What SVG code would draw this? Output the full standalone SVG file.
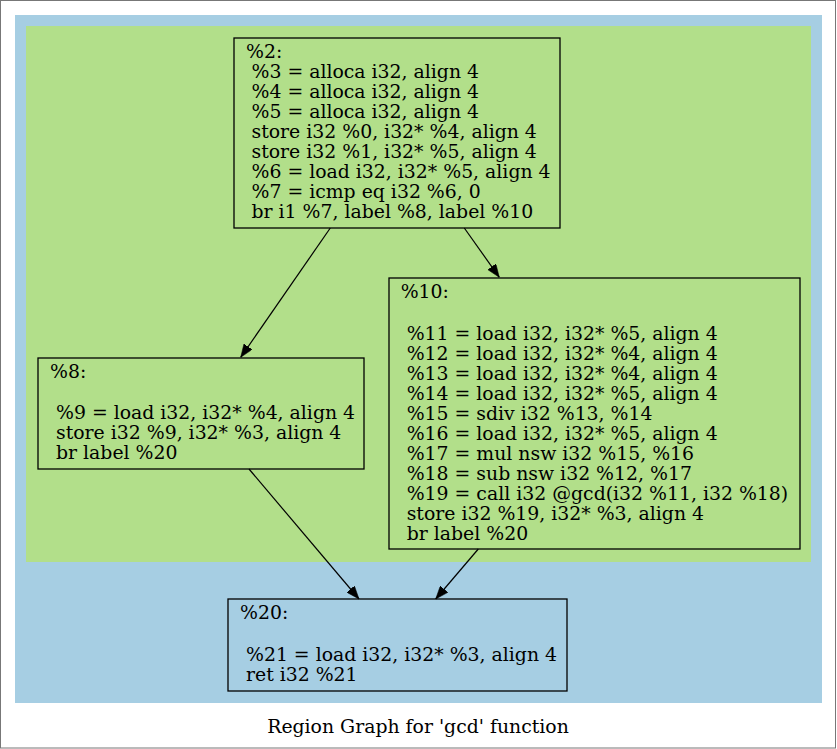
<svg xmlns="http://www.w3.org/2000/svg" width="837" height="749" viewBox="0 0 837 749">
  <style>
    .frame { fill: #ffffff; stroke: #777777; stroke-width: 1; }
    .outer { fill: #a6cee3; }
    .inner { fill: #b2df8a; }
    .node rect { stroke: #000000; stroke-width: 1.3; }
    .g rect { fill: #b2df8a; }
    .b rect { fill: #a6cee3; }
    text { font-family: "DejaVu Serif", serif; font-size: 18.85px; fill: #000000; }
    .edge { stroke: #000000; stroke-width: 1.2; fill: none; marker-end: url(#arrow); }
  </style>
  <defs>
    <marker id="arrow" viewBox="0 0 13 10" refX="13" refY="5" markerWidth="13" markerHeight="10" markerUnits="userSpaceOnUse" orient="auto">
      <path d="M0,0 L13,5 L0,10 Z" fill="#000000" stroke="#000000" stroke-width="0.5"/>
    </marker>
  </defs>

  <rect class="frame" x="0.5" y="0.5" width="835" height="747.5"/>

  <!-- clusters -->
  <rect class="outer" x="15" y="15" width="807" height="688"/>
  <rect class="inner" x="26" y="26" width="785" height="536"/>

  <g id="node2" class="node g">
    <rect x="234" y="38" width="326" height="190"/>
    <text x="246" y="58.3">%2:</text>
    <text x="251.5" y="78.2">%3 = alloca i32, align 4</text>
    <text x="251.5" y="98.1">%4 = alloca i32, align 4</text>
    <text x="251.5" y="118">%5 = alloca i32, align 4</text>
    <text x="251.5" y="137.9">store i32 %0, i32* %4, align 4</text>
    <text x="251.5" y="157.8">store i32 %1, i32* %5, align 4</text>
    <text x="251.5" y="177.7">%6 = load i32, i32* %5, align 4</text>
    <text x="251.5" y="197.6">%7 = icmp eq i32 %6, 0</text>
    <text x="251.5" y="217.5">br i1 %7, label %8, label %10</text>
  </g>

  <g id="node8" class="node g">
    <rect x="38" y="358" width="326" height="111"/>
    <text x="50" y="377.7">%8:</text>
    <text x="56" y="419.3">%9 = load i32, i32* %4, align 4</text>
    <text x="56" y="439.3">store i32 %9, i32* %3, align 4</text>
    <text x="56" y="459.3">br label %20</text>
  </g>

  <g id="node10" class="node g">
    <rect x="389" y="278" width="411" height="271"/>
    <text x="400.7" y="298.3">%10:</text>
    <text x="406.7" y="340">%11 = load i32, i32* %5, align 4</text>
    <text x="406.7" y="360">%12 = load i32, i32* %4, align 4</text>
    <text x="406.7" y="380">%13 = load i32, i32* %4, align 4</text>
    <text x="406.7" y="400">%14 = load i32, i32* %5, align 4</text>
    <text x="406.7" y="420">%15 = sdiv i32 %13, %14</text>
    <text x="406.7" y="440">%16 = load i32, i32* %5, align 4</text>
    <text x="406.7" y="460">%17 = mul nsw i32 %15, %16</text>
    <text x="406.7" y="480">%18 = sub nsw i32 %12, %17</text>
    <text x="406.7" y="500">%19 = call i32 @gcd(i32 %11, i32 %18)</text>
    <text x="406.7" y="520">store i32 %19, i32* %3, align 4</text>
    <text x="406.7" y="540">br label %20</text>
  </g>

  <g id="node20" class="node b">
    <rect x="228" y="599" width="339" height="92"/>
    <text x="240" y="619.3">%20:</text>
    <text x="246" y="660.7">%21 = load i32, i32* %3, align 4</text>
    <text x="246" y="680.7">ret i32 %21</text>
  </g>

  <g id="edges">
    <line class="edge" x1="330.3" y1="228" x2="240.7" y2="357.3"/>
    <line class="edge" x1="464.3" y1="228" x2="499.3" y2="277.3"/>
    <line class="edge" x1="249" y1="469" x2="359" y2="599"/>
    <line class="edge" x1="478.3" y1="549" x2="435.7" y2="599"/>
  </g>

  <text x="418" y="733.3" text-anchor="middle">Region Graph for 'gcd' function</text>
</svg>
